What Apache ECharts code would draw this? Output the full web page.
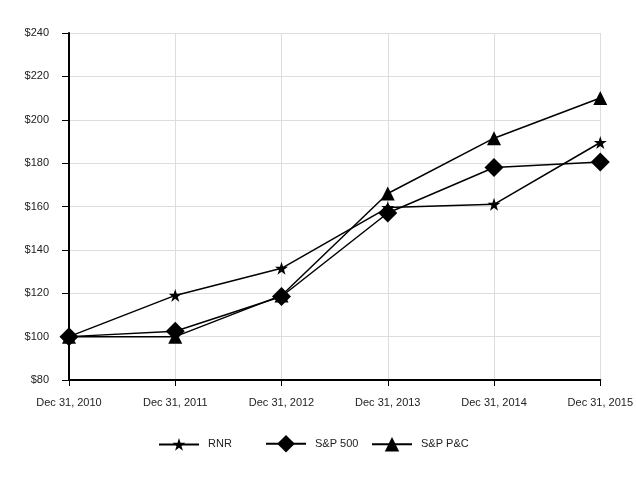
<!DOCTYPE html>
<html><head><meta charset="utf-8">
<script src="https://cdn.jsdelivr.net/npm/echarts@6/dist/echarts.min.js"></script>
<style>html,body{margin:0;padding:0;background:#fff}#c{width:636px;height:478px}</style>
</head><body><div id="c"></div>
<script>
const categories = ['Dec 31, 2010','Dec 31, 2011','Dec 31, 2012','Dec 31, 2013','Dec 31, 2014','Dec 31, 2015'];
const rnr = [100, 119, 131.5, 159.5, 161, 189.5];
const sp500 = [100, 102.5, 118.5, 157, 178, 180.5];
const sppc = [100, 100, 119, 166, 191.5, 210];
const yTicks = [80, 240, 20];

const font = 'Liberation Sans, Arial, sans-serif';
const chart = echarts.init(document.getElementById('c'), null, {renderer:'canvas'});
function ser(name, data, symbol, size){
  return {name, type:'line', data, symbol, symbolSize:size, showAllSymbol:true,
    lineStyle:{color:'#000', width:1.5}, itemStyle:{color:'#000'}, emphasis:{disabled:true}, z: 3};
}
function leg(name, left, h){
  return {data:[name], left, top:441 - h/2, itemWidth:40, itemHeight:h, itemGap:0,
    textStyle:{fontFamily:font, fontSize:11, color:'#222', padding:[0,0,0,4]}, selectedMode:false};
}
chart.setOption({
  animation:false,
  grid:{left:69, right:34, top:33, bottom:98},
  legend:[leg('RNR',153,16), leg('S&P 500',260,22), leg('S&P P&C',366,18)],
  xAxis:{type:'category', data:categories, boundaryGap:false,
    axisLine:{lineStyle:{color:'#000', width:2}},
    axisTick:{show:true, alignWithLabel:true, length:6, lineStyle:{color:'#000'}},
    axisLabel:{fontFamily:font, fontSize:11, color:'#222', margin:17, interval:0},
    splitLine:{show:true, lineStyle:{color:'#ddd', width:1}}},
  yAxis:{type:'value', min:yTicks[0], max:yTicks[1], interval:yTicks[2],
    axisLine:{show:true, lineStyle:{color:'#000', width:2}},
    axisTick:{show:true, length:7, lineStyle:{color:'#000'}},
    axisLabel:{fontFamily:font, fontSize:11, color:'#222', margin:20, formatter:v=>'$'+v},
    splitLine:{show:true, lineStyle:{color:'#ddd', width:1}}},
  series:[ser('RNR', rnr, 'path://M50,0 L61.8,36.2 L100,36.2 L69.1,58.8 L80.9,95.1 L50,72.7 L19.1,95.1 L30.9,58.8 L0,36.2 L38.2,36.2 Z', 13),
          ser('S&P 500', sp500, 'diamond', 19),
          ser('S&P P&C', sppc, 'triangle', 14)]
});
</script></body></html>
